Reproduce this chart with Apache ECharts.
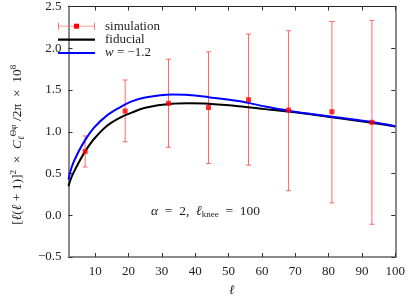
<!DOCTYPE html>
<html>
<head>
<meta charset="utf-8">
<script src="https://cdn.jsdelivr.net/npm/echarts@6/dist/echarts.min.js"></script>
<style>html,body{margin:0;padding:0;background:#fff}#c{width:408px;height:302px}</style>
</head>
<body>
<div id="c"></div>
<script>
// simulation points
const simL  = [7, 19, 32, 44, 56, 68, 81, 93];
const simV  = [0.764, 1.248, 1.340, 1.290, 1.384, 1.260, 1.240, 1.113];
const simLo = [0.578, 0.880, 0.814, 0.620, 0.600, 0.294, 0.148, -0.108];
const simHi = [0.950, 1.620, 1.869, 1.957, 2.170, 2.210, 2.320, 2.334];
// theory curves
const curveL = [2, 3, 5, 7, 9.6, 13.4, 17.2, 21, 25, 33, 38, 44, 53, 61, 68, 80, 93, 100];
const fidV   = [0.349, 0.465, 0.625, 0.765, 0.910, 1.066, 1.163, 1.229, 1.287, 1.334, 1.340, 1.335, 1.306, 1.271, 1.241, 1.180, 1.108, 1.062];
const wV     = [0.427, 0.581, 0.760, 0.900, 1.047, 1.190, 1.287, 1.364, 1.410, 1.445, 1.440, 1.414, 1.369, 1.302, 1.252, 1.185, 1.116, 1.066];
// ticks
const xTicks = [10, 20, 30, 40, 50, 60, 70, 80, 90, 100];

const serif = '"Liberation Serif", "DejaVu Serif", serif';
const frame = '#8a8a8a';
const tickC = '#333';
const lineIcon = 'path://M0,0L0,0ZM0,3.5L37,3.5L37,6.5L0,6.5ZM0,10L0,10Z';

const chart = echarts.init(document.getElementById('c'), null, {renderer: 'canvas'});
const errData = simL.map((l, i) => [l, simV[i], simLo[i], simHi[i]]);
const ptData = simL.map((l, i) => [l, simV[i]]);

const legendRich = {
  p: {width: 5, fontSize: 13, lineHeight: 13.4},
  t: {fontFamily: serif, fontSize: 13, color: '#222', lineHeight: 13.4},
  it: {fontFamily: serif, fontSize: 13, fontStyle: 'italic', color: '#222', lineHeight: 13.4}
};

const option = {
  animation: false,
  backgroundColor: '#fff',
  grid: {left: 49, right: 11, top: 5, bottom: 39},
  xAxis: [{
    type: 'value', min: 2, max: 100, position: 'bottom',
    axisLine: {onZero: false, lineStyle: {color: frame, width: 2}},
    axisTick: {inside: true, length: 4, customValues: xTicks, lineStyle: {color: tickC}},
    axisLabel: {customValues: xTicks, color: '#222', fontFamily: serif, fontSize: 13, margin: 8},
    splitLine: {show: false},
    name: 'ℓ', nameLocation: 'middle', nameGap: 27,
    nameTextStyle: {fontFamily: serif, fontStyle: 'italic', fontSize: 13, color: '#222'}
  }, {
    type: 'value', min: 2, max: 100, position: 'top',
    axisLine: {onZero: false, lineStyle: {color: '#222', width: 1}},
    axisTick: {inside: true, length: 4, customValues: xTicks, lineStyle: {color: tickC}},
    axisLabel: {show: false}, splitLine: {show: false}
  }],
  yAxis: [{
    type: 'value', min: -0.5, max: 2.5, interval: 0.5, position: 'left',
    axisLine: {show: true, onZero: false, lineStyle: {color: frame, width: 2}},
    axisTick: {show: true, inside: true, length: 4, lineStyle: {color: tickC}},
    axisLabel: {color: '#222', fontFamily: serif, fontSize: 13, margin: 7,
      formatter: v => v.toFixed(1).replace('-', '\u2212')},
    splitLine: {show: false},
    name: '{t|[}{it|ℓ}{t|(}{it|ℓ}{t| + 1)]}{sp|2}{t|  ×  }{it|C}{sb|ℓ}{sp|Θφ}{t| /2π  ×  10}{sp|8}',
    nameLocation: 'middle', nameGap: 37, nameRotate: 90,
    nameTextStyle: {
      fontFamily: serif, fontSize: 13, color: '#222', padding: [0, 26, 0, 0],
      rich: {
        t: {fontFamily: serif, fontSize: 13.5, color: '#222', lineHeight: 19},
        it: {fontFamily: serif, fontSize: 13.5, fontStyle: 'italic', color: '#222', lineHeight: 19},
        sp: {fontFamily: serif, fontSize: 9, color: '#222', lineHeight: 19, verticalAlign: 'top', padding: [1, 0, 0, 0]},
        sb: {fontFamily: serif, fontSize: 9, fontStyle: 'italic', color: '#222', lineHeight: 19, verticalAlign: 'bottom', padding: [0, 0, 1, 0]}
      }
    }
  }, {
    type: 'value', min: -0.5, max: 2.5, interval: 0.5, position: 'right',
    axisLine: {show: true, onZero: false, lineStyle: {color: frame, width: 2}},
    axisTick: {show: true, inside: true, length: 4, lineStyle: {color: tickC}},
    axisLabel: {show: false}, splitLine: {show: false}
  }],
  legend: [{
    orient: 'vertical', left: 58, top: 19.5, padding: 0, itemGap: 0,
    itemWidth: 37, itemHeight: 7, selectedMode: false, symbolKeepAspect: false,
    textStyle: {fontFamily: serif, fontSize: 13, color: '#222', lineHeight: 13.4, rich: legendRich},
    data: [
      {name: 'simulation', icon: 'path://M0,0L1,0L1,10L0,10ZM1,4.5L36,4.5L36,5.5L1,5.5ZM36,0L37,0L37,10L36,10Z', itemStyle: {color: '#f77'}},
      {name: 'fiducial', icon: lineIcon, itemStyle: {color: '#000'}},
      {name: 'w = −1.2', icon: lineIcon, itemStyle: {color: '#0000ff'}}
    ],
    formatter: n => n === 'w = −1.2' ? '{p| }{it|w}{t| = −1.2}' : '{p| }{t|' + n + '}'
  }, {
    orient: 'vertical', left: 74, top: 19.5, padding: 0, itemGap: 0,
    itemWidth: 5, itemHeight: 5, selectedMode: false, symbolKeepAspect: false,
    textStyle: {fontFamily: serif, fontSize: 13, color: 'rgba(0,0,0,0)', lineHeight: 13.4},
    data: [{name: 'simulation', icon: 'rect', itemStyle: {color: '#f00'}}]
  }],
  graphic: [{
    type: 'text', left: 151, top: 204, z: 10,
    style: {
      text: '{it|α}{t|  =  2,  }{it|ℓ}{sb|knee}{t|  =  100}',
      rich: {
        t: {fontFamily: serif, fontSize: 13.5, fill: '#222', lineHeight: 16},
        it: {fontFamily: serif, fontSize: 13.5, fontStyle: 'italic', fill: '#222', lineHeight: 16},
        sb: {fontFamily: serif, fontSize: 9, fill: '#222', lineHeight: 16, verticalAlign: 'bottom'}
      }
    }
  }],
  series: [{
    name: 'simulation', type: 'custom', z: 1,
    data: errData,
    encode: {x: 0, y: 1},
    renderItem: (params, api) => {
      const x = api.value(0);
      const lo = api.coord([x, api.value(2)]);
      const hi = api.coord([x, api.value(3)]);
      const c = 2.5;
      const st = {stroke: '#f66', lineWidth: 1};
      return {type: 'group', children: [
        {type: 'line', shape: {x1: lo[0], y1: lo[1], x2: hi[0], y2: hi[1]}, style: st},
        {type: 'line', shape: {x1: lo[0] - c, y1: lo[1], x2: lo[0] + c, y2: lo[1]}, style: st},
        {type: 'line', shape: {x1: hi[0] - c, y1: hi[1], x2: hi[0] + c, y2: hi[1]}, style: st}
      ]};
    },
    itemStyle: {color: '#f77'}
  }, {
    name: 'fiducial', type: 'line', z: 3, smooth: 0.35, symbol: 'none',
    data: curveL.map((l, i) => [l, fidV[i]]),
    lineStyle: {color: '#000', width: 2}, itemStyle: {color: '#000'}
  }, {
    name: 'w = −1.2', type: 'line', z: 4, smooth: 0.35, symbol: 'none',
    data: curveL.map((l, i) => [l, wV[i]]),
    lineStyle: {color: '#0000ff', width: 2}, itemStyle: {color: '#0000ff'}
  }, {
    name: 'simulation', type: 'scatter', z: 5, symbol: 'rect', symbolSize: 5,
    data: ptData, itemStyle: {color: '#f00'}
  }]
};
chart.setOption(option);
</script>
</body>
</html>
